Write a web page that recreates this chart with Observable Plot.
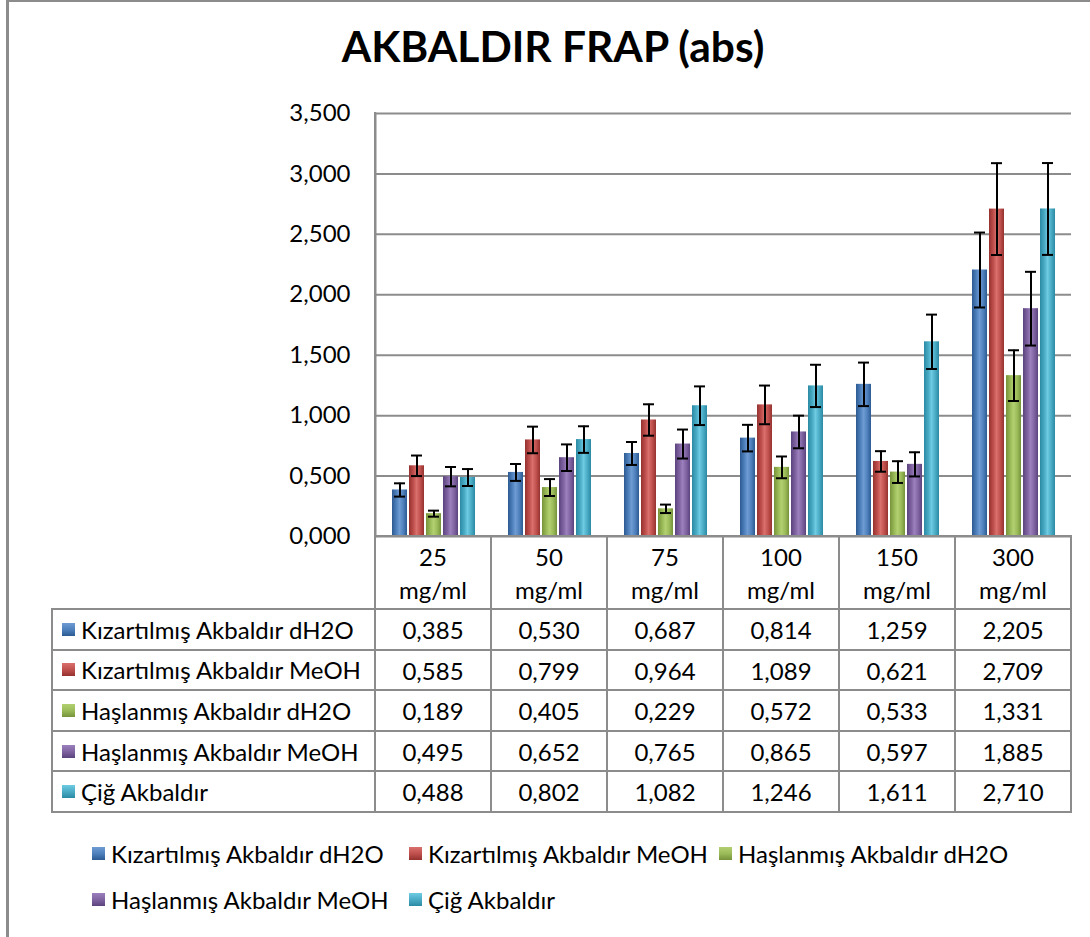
<!DOCTYPE html>
<html><head><meta charset="utf-8">
<script src="https://cdn.jsdelivr.net/npm/d3@7"></script>
<script src="https://cdn.jsdelivr.net/npm/@observablehq/plot@0.6"></script>
<style>
body{margin:0;background:#fff;}
#chart{position:relative;width:1090px;height:937px;overflow:hidden;font-family:Lato,'Open Sans',sans-serif;color:#000;background:#fff;}
#border{position:absolute;left:6px;top:-1px;width:1200px;height:1000px;border:3px solid #8c8c8c;box-sizing:border-box;}
#title{position:absolute;left:0;width:1106px;top:25px;text-align:center;font-weight:700;font-size:42.5px;line-height:1;}
#plotwrap{position:absolute;left:0;top:88px;}
.hl{position:absolute;height:2px;background:#8c8c8c;}
.vl{position:absolute;width:2px;background:#8c8c8c;}
.cell{position:absolute;text-align:center;font-size:24px;line-height:33px;}
.rowlab{position:absolute;font-size:24px;display:flex;align-items:center;white-space:nowrap;}
.mk{display:inline-block;width:13px;height:13px;margin-right:6px;flex:none;}
#legend{position:absolute;left:92px;top:839px;width:980px;display:grid;grid-template-columns:317px 310px auto;row-gap:18px;font-size:24px;}
#legend .it{display:flex;align-items:center;white-space:nowrap;height:28px;}
</style></head>
<body>
<svg width="0" height="0" style="position:absolute">
  <defs id="defs"></defs>
</svg>
<div id="chart">
  <div id="border"></div>
  <div id="title">AKBALDIR FRAP (abs)</div>
  <div id="plotwrap"></div>
  <div id="table"></div>
  <div id="legend"></div>
</div>
<script>
// ---- data ----
const categories = ["25 mg/ml", "50 mg/ml", "75 mg/ml", "100 mg/ml", "150 mg/ml", "300 mg/ml"];
const seriesNames = ["Kızartılmış Akbaldır dH2O", "Kızartılmış Akbaldır MeOH", "Haşlanmış Akbaldır dH2O", "Haşlanmış Akbaldır MeOH", "Çiğ Akbaldır"];
const kizartilmisDH2O = [0.385, 0.530, 0.687, 0.814, 1.259, 2.205];
const kizartilmisMeOH = [0.585, 0.799, 0.964, 1.089, 0.621, 2.709];
const haslanmisDH2O   = [0.189, 0.405, 0.229, 0.572, 0.533, 1.331];
const haslanmisMeOH   = [0.495, 0.652, 0.765, 0.865, 0.597, 1.885];
const cigAkbaldir     = [0.488, 0.802, 1.082, 1.246, 1.611, 2.710];
// error bar half-lengths
const errKizartilmisDH2O = [0.055, 0.070, 0.095, 0.110, 0.180, 0.310];
const errKizartilmisMeOH = [0.085, 0.110, 0.130, 0.160, 0.085, 0.380];
const errHaslanmisDH2O   = [0.025, 0.070, 0.035, 0.090, 0.090, 0.210];
const errHaslanmisMeOH   = [0.080, 0.110, 0.120, 0.135, 0.100, 0.305];
const errCigAkbaldir     = [0.070, 0.110, 0.160, 0.175, 0.225, 0.380];
const yTicks = [0, 0.5, 1, 1.5, 2, 2.5, 3, 3.5];
const colors = ["#4F81BD", "#C0504D", "#9BBB59", "#8064A2", "#4BACC6"];
const darks  = ["#2c5a92", "#94322f", "#76933a", "#5b437d", "#2b8aa3"];
const lights = ["#6f9bd3", "#d9706d", "#b3d070", "#9b80bd", "#6ecbe2"];

const seriesValues = [kizartilmisDH2O, kizartilmisMeOH, haslanmisDH2O, haslanmisMeOH, cigAkbaldir];
const seriesErrors = [errKizartilmisDH2O, errKizartilmisMeOH, errHaslanmisDH2O, errHaslanmisMeOH, errCigAkbaldir];

const fmt = v => d3.format(",.3f")(v).replace(".", ",");

// gradients
const defs = document.getElementById("defs");
colors.forEach((c, j) => {
  defs.insertAdjacentHTML("beforeend",
    `<linearGradient id="grad${j}" x1="0" x2="1" y1="0" y2="0">
      <stop offset="0" stop-color="${darks[j]}"/>
      <stop offset="0.3" stop-color="${c}"/>
      <stop offset="0.5" stop-color="${lights[j]}"/>
      <stop offset="0.75" stop-color="${c}"/>
      <stop offset="1" stop-color="${darks[j]}"/>
    </linearGradient>`);
});

const rows = [];
categories.forEach((cat, i) => seriesNames.forEach((s, j) => {
  rows.push({cat, series: s, value: seriesValues[j][i], err: seriesErrors[j][i]});
}));

const SVG_TOP = 88;
const plot = Plot.plot({
  width: 1090, height: 450,
  marginLeft: 374, marginRight: 18, marginTop: 25, marginBottom: 2,
  style: {fontFamily: "Lato, 'Open Sans', sans-serif", fontSize: "24px", background: "transparent", color: "#000", overflow: "visible"},
  fx: {domain: categories, padding: 0, axis: null},
  x: {domain: seriesNames, paddingInner: 0.12, paddingOuter: 0.85, axis: null},
  y: {domain: [0, 3.5]},
  marks: [
    Plot.gridY(yTicks, {stroke: "#8c8c8c", strokeOpacity: 1, strokeWidth: 2}),
    Plot.axisY(yTicks, {tickSize: 0, tickPadding: 25, tickFormat: fmt, fontSize: 24, label: null}),
    Plot.frame({anchor: "left", facetAnchor: "left", stroke: "#8c8c8c", strokeWidth: 2}),
    ...seriesNames.map((s, j) => Plot.barY(rows.filter(r => r.series === s), {fx: "cat", x: "series", y: "value", fill: `url(#grad${j})`})),
    Plot.ruleX(rows, {fx: "cat", x: "series", y1: d => d.value - d.err, y2: d => d.value + d.err, stroke: "#000", strokeWidth: 2}),
    Plot.tickY(rows, {fx: "cat", x: "series", y: d => d.value + d.err, stroke: "#000", strokeWidth: 2, inset: 2}),
    Plot.tickY(rows, {fx: "cat", x: "series", y: d => d.value - d.err, stroke: "#000", strokeWidth: 2, inset: 2})
  ]
});
document.getElementById("plotwrap").appendChild(plot);

// ---- data table below the plot, aligned with the fx scale ----
const fx = plot.scale("fx");
const yS = plot.scale("y");
const table = document.getElementById("table");
const bw = fx.bandwidth;
const colLeft = categories.map(c => fx.apply(c));
const plotLeft = colLeft[0];
const plotRight = colLeft[colLeft.length - 1] + bw;
const y0 = SVG_TOP + yS.apply(0);
const yTop = SVG_TOP + yS.apply(3.5);
const headerH = 73, rowH = 40.6, tableLeft = 52;
const rowTops = seriesNames.map((s, j) => y0 + headerH + j * rowH);
const tableBottom = y0 + headerH + seriesNames.length * rowH;
let html = "";
html += `<div class="hl" style="left:${plotLeft-1}px;top:${y0-1}px;width:${plotRight-plotLeft+2}px"></div>`;
for (let k = 0; k <= seriesNames.length; k++) {
  const y = y0 + headerH + k * rowH;
  html += `<div class="hl" style="left:${tableLeft-1}px;top:${y-1}px;width:${plotRight-tableLeft+2}px"></div>`;
}
html += `<div class="vl" style="left:${tableLeft-1}px;top:${y0+headerH-1}px;height:${tableBottom-y0-headerH+2}px"></div>`;
html += `<div class="vl" style="left:${plotLeft-1}px;top:${yTop-1}px;height:${tableBottom-yTop+2}px"></div>`;
categories.forEach((c, i) => {
  html += `<div class="vl" style="left:${colLeft[i]+bw-1}px;top:${y0-1}px;height:${tableBottom-y0+2}px"></div>`;
});
categories.forEach((c, i) => {
  const parts = c.split(" ");
  html += `<div class="cell" style="left:${colLeft[i]}px;width:${bw}px;top:${y0+4}px">${parts[0]}<br>${parts[1]}</div>`;
});
seriesNames.forEach((s, j) => {
  html += `<div class="rowlab" style="left:${tableLeft+10}px;top:${rowTops[j]}px;height:${rowH}px"><span class="mk" style="background:linear-gradient(${lights[j]},${colors[j]} 50%,${darks[j]})"></span>${s}</div>`;
  categories.forEach((c, i) => {
    html += `<div class="cell" style="left:${colLeft[i]}px;width:${bw}px;top:${rowTops[j]+4}px">${fmt(seriesValues[j][i])}</div>`;
  });
});
table.innerHTML = html;

document.getElementById("legend").innerHTML = seriesNames.map((s, j) =>
  `<div class="it"><span class="mk" style="background:linear-gradient(${lights[j]},${colors[j]} 50%,${darks[j]})"></span>${s}</div>`).join("");
</script>
</body></html>
